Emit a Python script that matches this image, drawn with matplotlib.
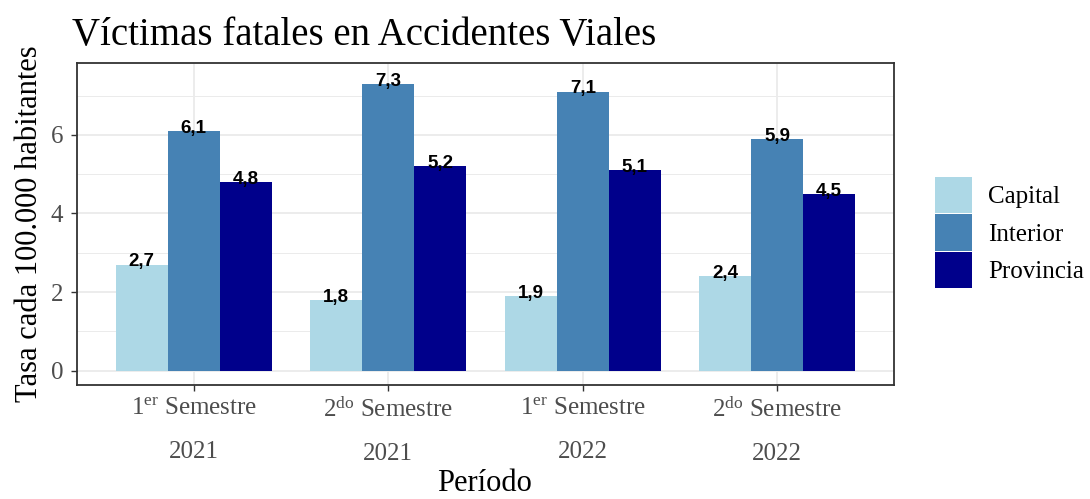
import numpy as np
import matplotlib
matplotlib.use('Agg')
import matplotlib.pyplot as plt

plt.rcParams['font.family'] = ['Liberation Serif', 'DejaVu Serif']
plt.rcParams['mathtext.fontset'] = 'custom'
plt.rcParams['mathtext.rm'] = 'Liberation Serif'
plt.rcParams['mathtext.it'] = 'Liberation Serif:italic'

# data
periodos = ['1$^{\\mathrm{er}}$ Semestre\n2021', '2$^{\\mathrm{do}}$ Semestre\n2021',
            '1$^{\\mathrm{er}}$ Semestre\n2022', '2$^{\\mathrm{do}}$ Semestre\n2022']
capital = [2.7, 1.8, 1.9, 2.4]
interior = [6.1, 7.3, 7.1, 5.9]
provincia = [4.8, 5.2, 5.1, 4.5]

series = [('Capital', capital, '#ADD8E6'),
          ('Interior', interior, '#4682B4'),
          ('Provincia', provincia, '#00008B')]

fig = plt.figure(figsize=(10.9, 4.99), dpi=100, facecolor='white')
ax = fig.add_axes([77/1090, 1-385/499, (894-77)/1090, (385-63)/499])

x = np.arange(1, len(periodos) + 1)
barWidth = 0.8 / 3

for i, (name, vals, col) in enumerate(series):
    pos = x + (i - 1) * barWidth
    ax.bar(pos, vals, width=barWidth, color=col, label=name, zorder=3)
    for px, v in zip(pos, vals):
        ax.annotate(f'{v:.1f}'.replace('.', ','), (px, v), xytext=(0, 2),
                    textcoords='offset points', ha='center', va='center',
                    fontsize=13.5, fontweight='bold', family='Liberation Sans',
                    color='black', zorder=4)

ax.set_xlim(0.4, 4.6)
ax.set_ylim(-0.365, 7.83)
ax.set_xticks(x)
ax.set_xticklabels(periodos, linespacing=2.25)
ax.set_yticks([0, 2, 4, 6])
ax.set_yticks([1, 3, 5, 7], minor=True)

ax.grid(True, which='major', color='#EBEBEB', linewidth=1.3, zorder=0)
ax.grid(True, which='minor', axis='y', color='#EBEBEB', linewidth=0.7, zorder=0)
ax.set_axisbelow(True)
ax.tick_params(axis='both', which='major', colors='#333333', labelcolor='#4D4D4D',
               labelsize=18, length=4, width=1)
ax.tick_params(axis='y', which='minor', length=0)
ax.tick_params(axis='x', pad=5)
ax.tick_params(axis='y', pad=6)
for s in ax.spines.values():
    s.set_color('#333333')
    s.set_linewidth(1.3)

fig.text(72/1090, 1-45/499, 'Víctimas fatales en Accidentes Viales', fontsize=28,
         ha='left', va='baseline', color='black')
fig.text(485/1090, 1-491/499, 'Período', fontsize=22, ha='center', va='baseline')
fig.text(30/1090, 1-224/499, 'Tasa cada 100.000 habitantes', fontsize=22,
         rotation=90, ha='center', va='center')

fig.legend(loc='center left', bbox_to_anchor=(935/1090, 1-232.5/499),
           frameon=False, fontsize=18, handlelength=1.48, handleheight=1.85,
           labelspacing=0.05, handletextpad=0.64, borderpad=0, borderaxespad=0)

plt.savefig('out.png', dpi=100)
